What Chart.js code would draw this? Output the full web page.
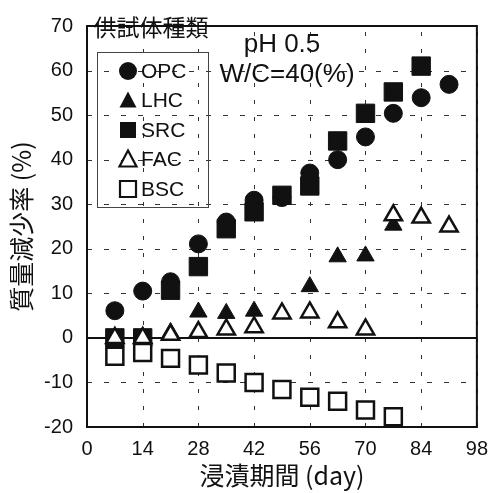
<!DOCTYPE html>
<html>
<head>
<meta charset="utf-8">
<script src="https://cdn.jsdelivr.net/npm/chart.js@4"></script>
<style>
  body { margin: 0; background: #fff; }
</style>
</head>
<body>
<canvas id="massLossChart" width="498" height="493"></canvas>
<script>
// 浸漬日数
const days = [7, 14, 21, 28, 35, 42, 49, 56, 63, 70, 77, 84, 91];
const lhcDays = [7, 14, 21, 28, 35, 42, 56, 63, 70, 77];

// 質量減少率 (%)
const opc = [6.1, 10.5, 12.6, 21.1, 26, 30.9, 31.5, 37, 40, 45.1, 50.4, 53.9, 56.9];
const src = [0, 0, 10.7, 16, 24.5, 28.3, 32, 34.1, 44.2, 50.4, 55.2, 61];
const lhc = [0, 0, 1.2, 5.8, 5.5, 6.0, 11.5, 18.2, 18.4, 25.3];
const fac = [0, 0, 0.7, 1.3, 1.9, 2.4, 5.5, 5.7, 3.5, 1.9, 27.5, 27, 25];
const bsc = [-4.1, -3.3, -4.6, -6.1, -7.9, -10, -11.6, -13.3, -14.2, -16.2, -17.7];

const xTicks = [0, 14, 28, 42, 56, 70, 84, 98];
const yTicks = [-20, -10, 0, 10, 20, 30, 40, 50, 60, 70];

const toPoints = (xs, ys) => ys.map((v, i) => ({ x: xs[i], y: v }));

const INK = '#111';
const latin = '"Liberation Sans", Arial, sans-serif';
const cjk = '"Noto Sans CJK JP", "Liberation Sans", sans-serif';

// 破線グリッド・枠・ゼロ線・凡例
const framePlugin = {
  id: 'frame',
  beforeDatasetsDraw(chart) {
    const { ctx, chartArea: a, scales } = chart;
    ctx.save();
    ctx.strokeStyle = '#333';
    ctx.lineWidth = 1;
    ctx.setLineDash([5, 12]);
    yTicks.forEach(v => {
      const py = Math.round(scales.y.getPixelForValue(v)) + 0.5;
      ctx.beginPath();
      ctx.moveTo(a.left, py);
      ctx.lineTo(a.right, py);
      ctx.stroke();
    });
    ctx.setLineDash([4, 13]);
    xTicks.forEach(v => {
      const px = Math.round(scales.x.getPixelForValue(v)) + 0.5;
      ctx.beginPath();
      ctx.moveTo(px, a.bottom);
      ctx.lineTo(px, a.top);
      ctx.stroke();
    });
    ctx.setLineDash([]);
    ctx.strokeStyle = INK;
    ctx.lineWidth = 2;
    const y0 = scales.y.getPixelForValue(0);
    ctx.beginPath();
    ctx.moveTo(a.left, y0);
    ctx.lineTo(a.right, y0);
    ctx.stroke();
    ctx.strokeRect(a.left, a.top, a.right - a.left, a.bottom - a.top);
    ctx.restore();
  },
  afterDraw(chart) {
    const { ctx } = chart;
    ctx.save();
    ctx.fillStyle = INK;
    ctx.textBaseline = 'middle';
    ctx.font = '23px ' + cjk;
    ctx.textAlign = 'center';
    ctx.fillText('供試体種類', 151, 27);

    ctx.font = '26px ' + latin;
    ctx.textBaseline = 'alphabetic';
    ctx.fillText('pH 0.5', 282, 52);
    ctx.fillText('W/C=40(%)', 287, 82);

    ctx.strokeStyle = '#444';
    ctx.lineWidth = 1;
    ctx.strokeRect(97.5, 52.5, 111, 155);

    const items = [
      ['OPC', 'circle', true],
      ['LHC', 'triangle', true],
      ['SRC', 'rect', true],
      ['FAC', 'triangle', false],
      ['BSC', 'rect', false]
    ];
    ctx.font = '21px ' + latin;
    ctx.textAlign = 'left';
    ctx.textBaseline = 'middle';
    items.forEach(([name, shape, filled], i) => {
      const cy = 71 + i * 29.5;
      const cx = 128;
      ctx.beginPath();
      if (shape === 'circle') {
        ctx.arc(cx, cy, 9, 0, Math.PI * 2);
      } else if (shape === 'triangle') {
        ctx.moveTo(cx, cy - 9);
        ctx.lineTo(cx + 8.5, cy + 7);
        ctx.lineTo(cx - 8.5, cy + 7);
        ctx.closePath();
      } else {
        ctx.rect(cx - 8, cy - 8, 16, 16);
      }
      if (filled) {
        ctx.fillStyle = INK;
        ctx.fill();
      } else {
        ctx.fillStyle = '#fff';
        ctx.fill();
        ctx.lineWidth = 2.2;
        ctx.strokeStyle = INK;
        ctx.stroke();
      }
      ctx.fillStyle = INK;
      ctx.fillText(name, 141, cy + 1);
    });
    ctx.restore();
  }
};

const filled = { backgroundColor: INK, borderColor: INK, borderWidth: 1 };
const open = { backgroundColor: '#fff', borderColor: INK, borderWidth: 2.5 };

const ctx = document.getElementById('massLossChart').getContext('2d');
const massLossChart = new Chart(ctx, {
  type: 'scatter',
  data: {
    datasets: [
      { label: 'OPC', data: toPoints(days, opc), pointStyle: 'circle', pointRadius: 9, order: 4, ...filled },
      { label: 'LHC', data: toPoints(lhcDays, lhc), pointStyle: 'triangle', pointRadius: 10, order: 3, ...filled },
      { label: 'SRC', data: toPoints(days, src), pointStyle: 'rect', pointRadius: 13, order: 2, ...filled },
      { label: 'FAC', data: toPoints(days, fac), pointStyle: 'triangle', pointRadius: 10, order: 1, ...open },
      { label: 'BSC', data: toPoints(days, bsc), pointStyle: 'rect', pointRadius: 12, order: 0, ...open }
    ]
  },
  options: {
    responsive: false,
    animation: false,
    devicePixelRatio: 1,
    layout: { padding: { top: 13, right: 17, left: 0, bottom: 0 } },
    plugins: {
      legend: { display: false },
      tooltip: { enabled: false }
    },
    scales: {
      x: {
        type: 'linear',
        min: 0,
        max: 98,
        afterBuildTicks: (axis) => { axis.ticks = xTicks.map(v => ({ value: v })); },
        afterFit: (axis) => { axis.height = 66; },
        ticks: { color: INK, font: { family: latin, size: 20 }, padding: 10 },
        grid: { display: false, drawTicks: false },
        border: { display: false },
        title: {
          display: true,
          text: '浸漬期間 (day)',
          color: INK,
          font: { family: cjk, size: 25 },
          padding: { top: 0, bottom: 3 }
        }
      },
      y: {
        type: 'linear',
        min: -20,
        max: 70,
        afterBuildTicks: (axis) => { axis.ticks = yTicks.map(v => ({ value: v })); },
        afterFit: (axis) => { axis.width = 87; },
        ticks: { color: INK, font: { family: latin, size: 20 }, padding: 14 },
        grid: { display: false, drawTicks: false },
        border: { display: false },
        title: {
          display: true,
          text: '質量減少率 (%)',
          color: INK,
          font: { family: cjk, size: 25 },
          padding: { top: 6, bottom: 0 }
        }
      }
    }
  },
  plugins: [framePlugin]
});
</script>
</body>
</html>
